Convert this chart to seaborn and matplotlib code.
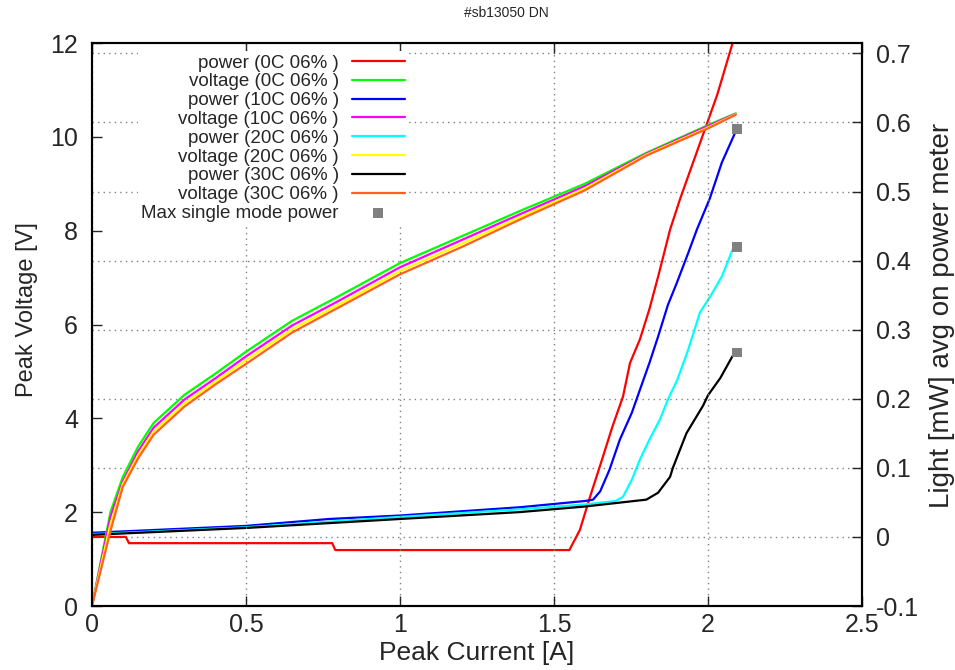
import matplotlib
matplotlib.use("Agg")
import matplotlib.pyplot as plt
import seaborn as sns
import pandas as pd

# voltage curves (left axis)
current_v = [0, 0.06, 0.1, 0.15, 0.2, 0.3, 0.4, 0.5, 0.65, 0.8, 1.0, 1.2, 1.4, 1.6, 1.8, 2.0, 2.09]
voltage_0c = [0, 2.0, 2.75, 3.4, 3.9, 4.5, 4.95, 5.42, 6.08, 6.6, 7.31, 7.88, 8.45, 9.0, 9.66, 10.25, 10.5]
voltage_10c = [0, 1.9, 2.65, 3.3, 3.8, 4.4, 4.85, 5.32, 5.98, 6.5, 7.22, 7.8, 8.38, 8.95, 9.64, 10.23, 10.49]
voltage_20c = [0, 1.75, 2.6, 3.22, 3.72, 4.32, 4.78, 5.24, 5.9, 6.42, 7.14, 7.72, 8.32, 8.9, 9.62, 10.2, 10.48]
voltage_30c = [0, 1.6, 2.54, 3.15, 3.65, 4.25, 4.72, 5.16, 5.83, 6.36, 7.07, 7.65, 8.27, 8.86, 9.6, 10.18, 10.47]

# light curves (right axis)
current_p0 = [0, 0.11, 0.12, 0.78, 0.79, 1.55, 1.584, 1.617, 1.656, 1.69, 1.724, 1.747, 1.779,
              1.81, 1.84, 1.877, 1.91, 1.95, 1.99, 2.03, 2.08, 2.1]
power_0c = [0.0, 0.0, -0.009, -0.009, -0.019, -0.019, 0.01, 0.058, 0.112, 0.16, 0.203, 0.252, 0.286,
            0.33, 0.38, 0.445, 0.49, 0.54, 0.59, 0.64, 0.715, 0.74]
current_p10 = [0, 0.5, 0.77, 1.0, 1.39, 1.6, 1.627, 1.65, 1.68, 1.714, 1.753, 1.779, 1.81, 1.838,
               1.87, 1.899, 1.935, 1.964, 2.006, 2.045, 2.088]
power_10c = [0.006, 0.016, 0.026, 0.031, 0.043, 0.052, 0.054, 0.066, 0.097, 0.141, 0.18, 0.213, 0.252,
             0.29, 0.336, 0.368, 0.41, 0.445, 0.49, 0.542, 0.585]
current_p20 = [0, 0.5, 1.0, 1.39, 1.6, 1.7, 1.724, 1.753, 1.779, 1.81, 1.844, 1.87, 1.9, 1.935,
               1.974, 2.01, 2.045, 2.08]
power_20c = [0.004, 0.014, 0.029, 0.04, 0.047, 0.052, 0.058, 0.083, 0.112, 0.141, 0.17, 0.199, 0.227,
             0.27, 0.325, 0.35, 0.377, 0.416]
current_p30 = [0, 0.5, 1.0, 1.39, 1.6, 1.8, 1.838, 1.877, 1.886, 1.93, 1.984, 2.0, 2.04, 2.08]
power_30c = [0.003, 0.013, 0.026, 0.036, 0.044, 0.054, 0.064, 0.087, 0.1, 0.15, 0.19, 0.205, 0.23, 0.262]

current_max = [2.094, 2.094, 2.094]
power_max = [0.59, 0.42, 0.267]

temps = ["0C", "10C", "20C", "30C"]
power_colors = ["#ff0000", "#0000ff", "#00ffff", "#000000"]
voltage_colors = ["#00ff00", "#ff00ff", "#ffff00", "#ff6020"]

sns.set_style("white")
plt.rcParams["font.family"] = ["Liberation Sans", "DejaVu Sans"]

fig = plt.figure(figsize=(9.55, 6.7), dpi=100)
ax = fig.add_axes([0.0963, 0.0955, 0.8063, 0.8403])
ax2 = ax.twinx()
ax.set_zorder(ax2.get_zorder() + 1)
ax.patch.set_visible(False)

power_sets = [(current_p0, power_0c), (current_p10, power_10c),
              (current_p20, power_20c), (current_p30, power_30c)]
voltage_sets = [voltage_0c, voltage_10c, voltage_20c, voltage_30c]

handles, labels = [], []
for t, (cur, pw), volt, pc, vc in zip(temps, power_sets, voltage_sets, power_colors, voltage_colors):
    df_p = pd.DataFrame({"I": cur, "P": pw})
    sns.lineplot(data=df_p, x="I", y="P", ax=ax2, color=pc, lw=1.6, legend=False)
    handles.append(ax2.lines[-1])
    labels.append(f"power ({t} 06% )")
    df_v = pd.DataFrame({"I": current_v, "V": volt})
    sns.lineplot(data=df_v, x="I", y="V", ax=ax, color=vc, lw=1.6, legend=False)
    handles.append(ax.lines[-1])
    labels.append(f"voltage ({t} 06% )")

sns.scatterplot(x=current_max, y=power_max, ax=ax2, marker="s", color="#808080",
                s=50, edgecolor="none", legend=False, zorder=5)
handles.append(ax2.collections[-1])
labels.append("Max single mode power")

ax.set_xlim(0, 2.5)
ax.set_ylim(0, 12)
ax2.set_ylim(-0.1, 0.715)
ax.set_xticks([0, 0.5, 1, 1.5, 2, 2.5])
ax.set_xticklabels(["0", "0.5", "1", "1.5", "2", "2.5"])
ax.set_yticks([0, 2, 4, 6, 8, 10, 12])
ax2.set_yticks([-0.1, 0, 0.1, 0.2, 0.3, 0.4, 0.5, 0.6, 0.7])
ax2.set_yticklabels(["-0.1", "0", "0.1", "0.2", "0.3", "0.4", "0.5", "0.6", "0.7"])

grid_kw = dict(color="#808080", lw=1, ls=(0, (1, 3)))
ax.grid(axis="x", **grid_kw)
ax.grid(axis="y", visible=False)
ax2.grid(axis="y", **grid_kw)

ax.tick_params(axis="both", direction="in", length=7, width=1, labelsize=18,
               top=True, right=False, left=True, bottom=True, pad=6)
ax.tick_params(axis="x", pad=5)
ax2.tick_params(axis="y", direction="in", length=7, width=1, labelsize=18, right=True, pad=10)
ax.tick_params(axis="y", pad=10)

for a in (ax, ax2):
    for s in a.spines.values():
        s.set_linewidth(1.5)
        s.set_color("black")

ax.set_xlabel("Peak Current [A]", fontsize=19, labelpad=3)
ax.set_ylabel("Peak Voltage [V]", fontsize=17, labelpad=9, y=0.527)
ax2.set_ylabel("Light [mW] avg on power meter", fontsize=20, labelpad=7, y=0.517)
fig.text(0.53, 1 - 13 / 670, "#sb13050 DN", ha="center", va="center", fontsize=10)

leg = ax.legend(handles, labels, loc="upper right", bbox_to_anchor=(0.423, 1.003),
                markerfirst=False, frameon=True, facecolor="white", edgecolor="none",
                framealpha=1, fancybox=False, fontsize=13.5, handlelength=2.8,
                labelspacing=0.09, borderpad=0.2, handletextpad=0.7, scatterpoints=1)

fig.savefig("out.png", dpi=100)
